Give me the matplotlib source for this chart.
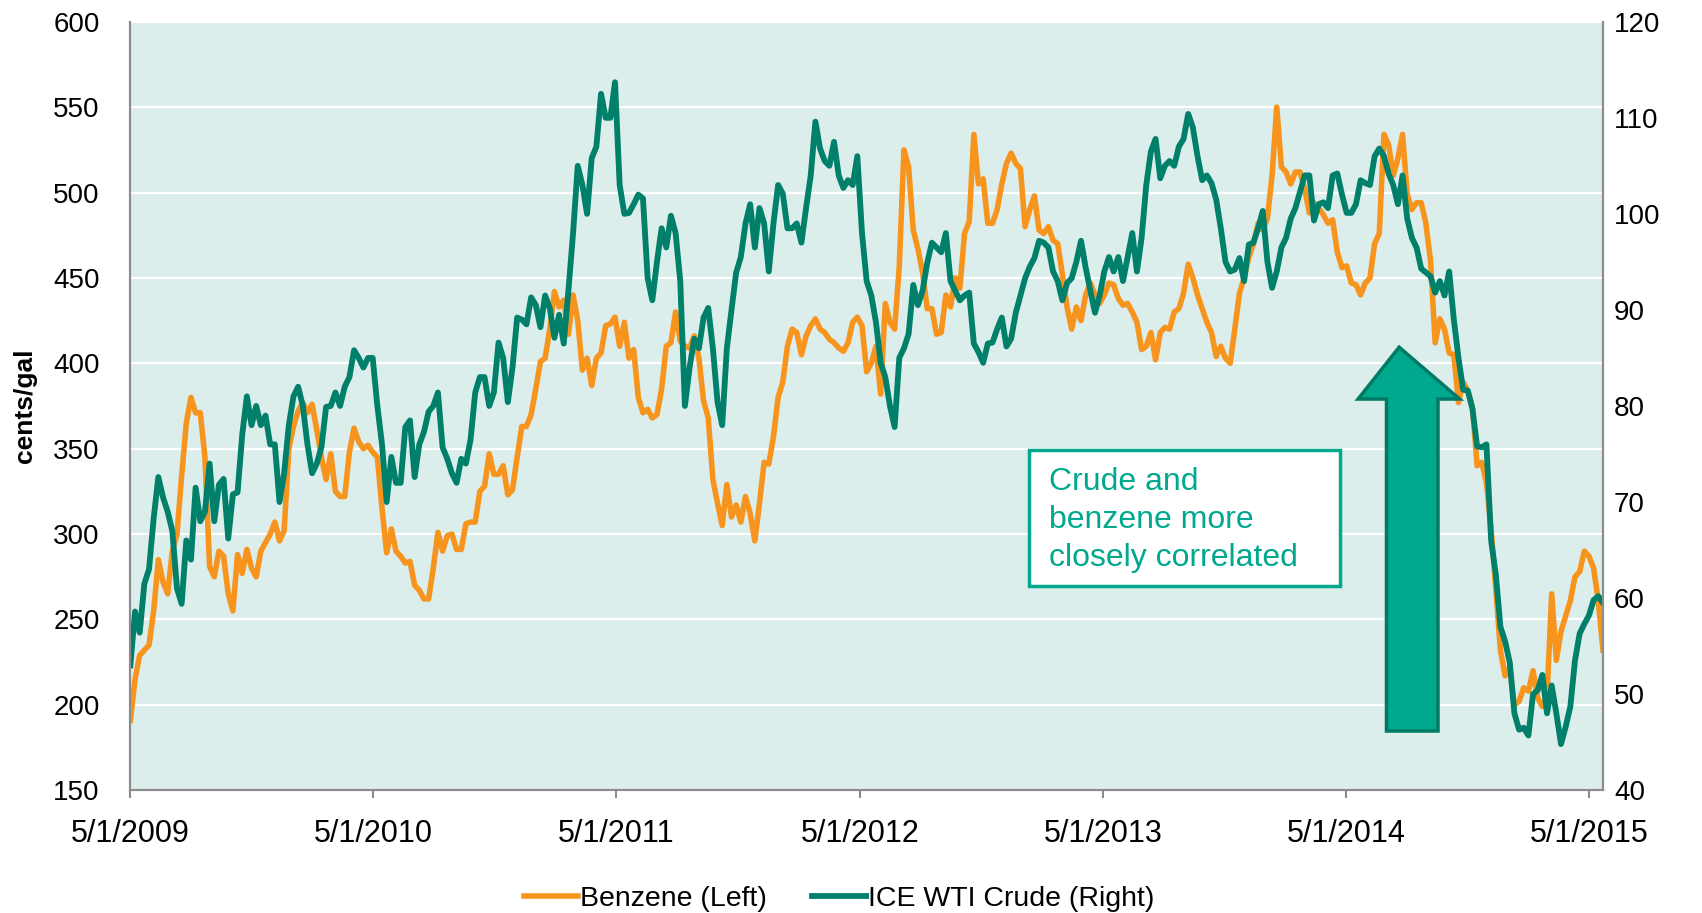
import pandas as pd
import matplotlib.pyplot as plt
from matplotlib.patches import Polygon, Rectangle

# weekly readings, starting 5/1/2009
benzene = [
    191, 215, 229, 232, 235, 255, 285, 272, 265, 290,
    300, 334, 365, 380, 371, 371, 345, 281, 275, 290,
    287, 265, 255, 288, 277, 291, 280, 275, 290, 295,
    300, 307, 296, 302, 350, 363, 372, 377, 371, 376,
    361, 345, 332, 347, 325, 322, 322, 348, 362, 354,
    350, 352,
    348, 345, 315, 289, 303, 290, 287, 283, 284, 270,
    267, 262, 262, 280, 301, 290, 299, 300, 291, 291,
    306, 307, 307, 325, 328, 347, 335, 335, 340, 323,
    326, 345, 363, 363, 370, 385, 401, 403, 420, 442,
    433, 437, 417, 440, 425, 396, 403, 387, 403, 406,
    422, 423,
    427, 410, 424,
    403, 408, 380, 371, 373, 368, 370, 385, 410, 412,
    430, 413, 410, 409, 416, 403, 378, 368, 332, 318,
    305, 329, 310, 317, 307, 322, 312, 296, 318, 342,
    341, 357, 380, 389, 410, 420, 418, 405, 416, 422,
    426, 420, 418, 414, 412, 409, 407, 412, 424,
    427, 422, 395, 400, 410, 382, 435, 424, 420, 457,
    525, 515, 478, 467, 453, 432, 432, 417, 418, 440,
    433, 450, 444, 476, 483, 534, 505, 508, 482, 482,
    490, 505, 517, 523, 517, 514, 480, 490, 498, 478,
    476, 480, 472, 470, 452, 433, 420, 433, 425, 440,
    447, 440,
    435, 440, 447, 446, 438, 434, 435, 430, 424, 408,
    410, 418, 402, 418, 421, 420, 430, 432, 441, 458,
    450, 440, 432, 424, 418, 404, 410, 403, 400, 420,
    441, 450, 462, 470, 482, 478, 485, 510, 550, 515,
    512, 505, 512, 512, 502, 488, 494, 491, 487, 482,
    484, 465, 456, 457,
    447, 446, 440, 447, 450, 470, 476, 534, 528, 510,
    520, 534, 499, 490, 494, 494, 482, 460, 412, 426,
    420, 406, 405, 377, 389, 384, 374, 340, 342, 330,
    303, 268, 232, 217, 222, 200, 202, 210, 208, 220,
    204, 199, 205, 265, 226, 243, 252, 261, 275, 278,
    290, 287, 280, 261, 232,
]

wti = [
    53, 58.6, 56.4, 61.5, 63, 68.3, 72.6, 70.5, 69, 67,
    61, 59.4, 66, 64, 71.5, 68, 69, 74, 68, 71.8,
    72.4, 66.2, 70.8, 71, 77, 81, 78, 80, 78, 79,
    76, 76, 70, 73, 78, 81, 82, 80, 76, 73,
    74, 75.7, 79.9, 80, 81.4, 80, 82, 83, 85.8, 85,
    84, 85,
    85, 80, 76, 70, 74.7, 72, 72, 77.8, 78.5, 72.6,
    76, 77.3, 79.4, 80, 81.4, 75.7, 74.5, 73, 72, 74.5,
    74, 76.5, 81.4, 83, 83, 80, 81.4, 86.6, 85, 80.4,
    84, 89.2, 89, 88.5, 91.3, 90.5, 88.2, 91.5, 90.2, 87.1,
    89.5, 86.5, 92, 98, 105, 103, 100, 105.8, 107, 112.5,
    110, 110,
    113.7, 103,
    100, 100.1, 101, 102, 101.6, 93.3, 91, 95, 98.5, 96.5,
    99.8, 98, 93, 80, 84, 87, 86, 89.2, 90.2, 86,
    80.4, 78, 86, 90, 93.9, 95.5, 99, 101, 96.5, 100.6,
    99, 94, 99, 103, 102.1, 98.5, 98.5, 99, 97, 100.6,
    104, 109.6, 106.8, 105.5, 105, 107.5, 104, 102.7, 103.5, 103,
    106, 98, 93, 91.5, 88.7, 84.5, 83, 80, 77.8, 85,
    86, 87.5, 92.6, 90.5, 92, 94.9, 97, 96.5, 96, 98,
    93, 92, 91, 91.5, 91.8, 86.5, 85.6, 84.5, 86.5, 86.6,
    88, 89.2, 86.2, 87, 89.7, 91.5, 93.3, 94.5, 95.4, 97.2,
    97, 96.5, 94, 93, 91, 92.8, 93.3, 95, 97.2, 94.4,
    92, 89.7,
    91.5, 94, 95.5, 94, 95.5, 93, 95.5, 98, 94, 97.5,
    103, 106.5, 107.8, 103.7, 105, 105.5, 105, 107, 107.8, 110.4,
    109, 106, 103.5, 104, 103.2, 101.5, 98.5, 95, 94, 94.2,
    95.4, 93, 96.8, 97, 98.5, 100.3, 95, 92.3, 94, 96.5,
    97.5, 99.5, 100.6, 102.3, 104, 104, 99.3, 101, 101.2, 100.6,
    104, 104.2, 102, 100.1,
    100.1, 101, 103.5, 103.2, 103, 106, 106.8, 106, 104.2, 103,
    101, 104, 99.5, 97.5, 96.5, 94.3, 93.9, 93.5, 91.8, 93,
    91.5, 94, 89, 85, 81.7, 81.6, 79.7, 75.8, 75.7, 76,
    66, 62.5, 57, 55.5, 53.3, 48, 46.3, 46.5, 45.7, 50,
    50.4, 52, 48, 50.9, 48, 44.8, 46.6, 48.7, 53.5, 56.3,
    57.3, 58.2, 59.8, 60.2, 59.5,
]

dates = pd.date_range("2009-05-01", periods=len(benzene), freq="7D")
years = [2009, 2010, 2011, 2012, 2013, 2014, 2015]
left_ticks = [150, 200, 250, 300, 350, 400, 450, 500, 550, 600]
right_ticks = [40, 50, 60, 70, 80, 90, 100, 110, 120]
note = "Crude and\nbenzene more\nclosely correlated"

ORANGE = "#F7941E"
GREEN = "#00806A"
TEAL = "#00A88E"
BG = "#DCEEEB"
SPINE = "#8C8C8C"

plt.rcParams["font.family"] = ["Liberation Sans", "DejaVu Sans"]

fig = plt.figure(figsize=(17.02, 9.13), dpi=100)
ax1 = fig.add_axes([0.0766, 0.1345, 0.8652, 0.8417])
ax1.set_facecolor(BG)
l1, = ax1.plot(dates, benzene, color=ORANGE, lw=4, label="Benzene (Left)")
ax1.set_ylim(150, 600)
ax1.set_yticks(left_ticks)
ax1.grid(axis="y", color="white", lw=1.6)
ax1.set_axisbelow(True)
ax1.set_ylabel("cents/gal", fontsize=19, fontweight="bold", labelpad=12)

ax2 = ax1.twinx()
l2, = ax2.plot(dates, wti, color=GREEN, lw=4.2, label="ICE WTI Crude (Right)")
ax2.set_ylim(40, 120)
ax2.set_yticks(right_ticks)

ax1.set_xlim(dates[0], dates[-1])
ax1.set_xticks([pd.Timestamp(f"{y}-05-01") for y in years])
ax1.set_xticklabels([f"5/1/{y}" for y in years])

for ax in (ax1, ax2):
    for side in ("left", "right", "bottom"):
        ax.spines[side].set_color(SPINE)
        ax.spines[side].set_linewidth(1.5)
    ax.spines["top"].set_visible(False)
ax1.tick_params(axis="x", labelsize=22, length=6, color=SPINE, width=1.5, pad=15)
ax1.tick_params(axis="y", labelsize=20, length=0, pad=22)
ax2.tick_params(axis="y", labelsize=20, length=0, pad=8)

# annotation box
ax2.add_patch(Rectangle((0.610, 0.2656), 0.2115, 0.1771, transform=ax2.transAxes,
                        facecolor="white", edgecolor=TEAL, lw=2.5, zorder=5))
ax2.text(0.624, 0.421, note, transform=ax2.transAxes, ha="left", va="top",
         fontsize=23, color=TEAL, linespacing=1.36, zorder=6)

# big up arrow
arrow = [(0.8530, 0.077), (0.8530, 0.509), (0.8337, 0.509), (0.8616, 0.5765),
         (0.9027, 0.509), (0.8880, 0.509), (0.8880, 0.077)]
ax2.add_patch(Polygon(arrow, closed=True, transform=ax2.transAxes,
                      facecolor=TEAL, edgecolor="#007A65", lw=2.5, zorder=5))

fig.legend([l1, l2], [l1.get_label(), l2.get_label()], loc="lower center",
           bbox_to_anchor=(0.493, -0.027), ncol=2, frameon=False, fontsize=20.5,
           handlelength=1.9, handletextpad=0.05, columnspacing=1.6)

plt.savefig("out.png", dpi=100)
